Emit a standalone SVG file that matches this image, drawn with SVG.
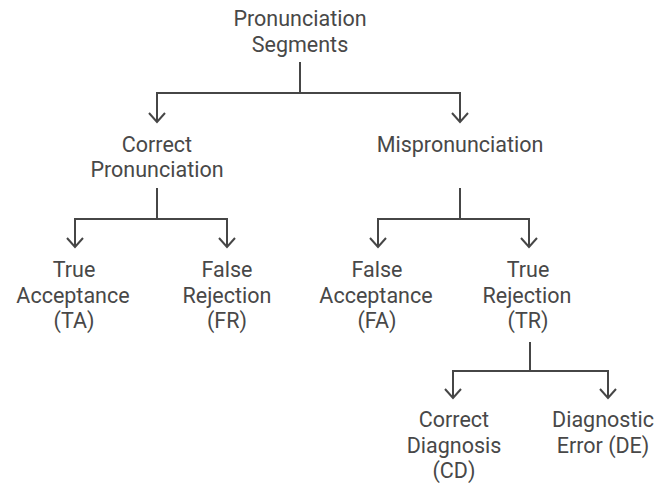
<svg xmlns="http://www.w3.org/2000/svg" width="656" height="483" viewBox="0 0 656 483">
  <style>
    .lbl { font-family: Roboto, "Liberation Sans", sans-serif; font-size: 21.5px; fill: #484848; text-anchor: middle; }
    .wire { fill: none; stroke: #464646; stroke-width: 2; stroke-linejoin: miter; }
  </style>
  <defs>
    <!-- open chevron arrowhead, drawn along +x so orient="auto" turns it with the line -->
    <marker id="chev" markerUnits="userSpaceOnUse" markerWidth="14" markerHeight="20" refX="11" refY="10" orient="auto" viewBox="0 0 14 20">
      <path d="M2 2 L11 10 L2 18" fill="none" stroke="#464646" stroke-width="2"/>
    </marker>
  </defs>
  <rect width="656" height="483" fill="#ffffff"/>

  <g id="connectors">
    <path class="wire" d="M300 62 V93 H157 V122" marker-end="url(#chev)"/>
    <path class="wire" d="M300 93 H460 V122" marker-end="url(#chev)"/>
    <path class="wire" d="M157 188 V219 H75 V247" marker-end="url(#chev)"/>
    <path class="wire" d="M157 219 H227 V247" marker-end="url(#chev)"/>
    <path class="wire" d="M460 188 V219 H378 V247" marker-end="url(#chev)"/>
    <path class="wire" d="M460 219 H529 V247" marker-end="url(#chev)"/>
    <path class="wire" d="M530 342 V371 H453 V398" marker-end="url(#chev)"/>
    <path class="wire" d="M530 371 H608 V398" marker-end="url(#chev)"/>
  </g>

  <g id="node-root">
    <text class="lbl" x="300" y="26">Pronunciation</text>
    <text class="lbl" x="300" y="52">Segments</text>
  </g>
  <g id="node-correct">
    <text class="lbl" x="157" y="152">Correct</text>
    <text class="lbl" x="157" y="177">Pronunciation</text>
  </g>
  <g id="node-mispron">
    <text class="lbl" x="460" y="152">Mispronunciation</text>
  </g>
  <g id="node-ta">
    <text class="lbl" x="74" y="277">True</text>
    <text class="lbl" x="73" y="303">Acceptance</text>
    <text class="lbl" x="74" y="328">(TA)</text>
  </g>
  <g id="node-fr">
    <text class="lbl" x="227" y="277">False</text>
    <text class="lbl" x="227" y="303">Rejection</text>
    <text class="lbl" x="227" y="328">(FR)</text>
  </g>
  <g id="node-fa">
    <text class="lbl" x="377" y="277">False</text>
    <text class="lbl" x="376" y="303">Acceptance</text>
    <text class="lbl" x="377" y="328">(FA)</text>
  </g>
  <g id="node-tr">
    <text class="lbl" x="528" y="277">True</text>
    <text class="lbl" x="527" y="303">Rejection</text>
    <text class="lbl" x="528" y="328">(TR)</text>
  </g>
  <g id="node-cd">
    <text class="lbl" x="454" y="427">Correct</text>
    <text class="lbl" x="454" y="453">Diagnosis</text>
    <text class="lbl" x="454" y="478">(CD)</text>
  </g>
  <g id="node-de">
    <text class="lbl" x="603" y="427">Diagnostic</text>
    <text class="lbl" x="603" y="453">Error (DE)</text>
  </g>
</svg>
